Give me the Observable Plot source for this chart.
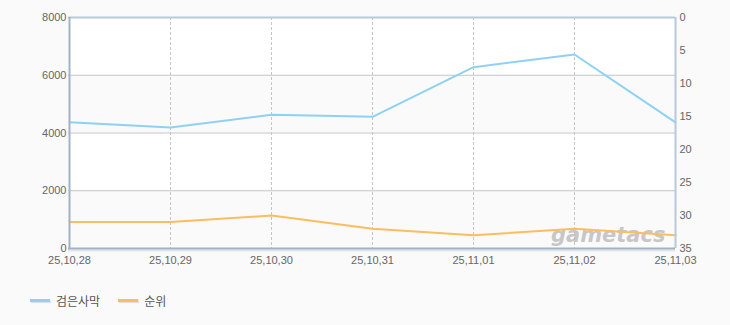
<!DOCTYPE html>
<html><head><meta charset="utf-8">
<script src="https://cdn.jsdelivr.net/npm/d3@7"></script>
<script src="https://cdn.jsdelivr.net/npm/@observablehq/plot@0.6"></script>
<style>
body{margin:0;background:#fafafa;font-family:"Noto Sans CJK KR","Liberation Sans",sans-serif;}
#wrap{position:relative;width:730px;height:325px;}
#legend{position:absolute;left:30px;top:292px;display:flex;align-items:center;font-size:12px;color:#555;}
.sw{display:inline-block;width:20px;height:3px;margin-right:6px;box-shadow:1px 1px 1px #ddd;}
.item{display:flex;align-items:center;margin-right:18px;}
</style></head>
<body><div id="wrap"><div id="chart"></div>
<div id="legend"></div></div>
<script>
const dates = ["25,10,28","25,10,29","25,10,30","25,10,31","25,11,01","25,11,02","25,11,03"];
const users = [4370, 4190, 4630, 4560, 6280, 6720, 4370];
const ranks = [31, 31, 30, 32, 33, 32, 33];
const leftTicks = [0, 2000, 4000, 6000, 8000];
const rankTicks = [0, 5, 10, 15, 20, 25, 30, 35];
const seriesNames = ["검은사막", "순위"];
const colors = ["#8fd1f2", "#fbbd5e"];

const YMAX = 8000, RMAX = 35;
const r2y = r => YMAX - r * YMAX / RMAX;
const y2r = v => Math.round((YMAX - v) * RMAX / YMAX);

const userData = dates.map((d, i) => ({d, v: users[i]}));
const rankData = dates.map((d, i) => ({d, v: r2y(ranks[i])}));
const bands = [[0, 2000], [4000, 6000]];

const chart = Plot.plot({
  width: 730, height: 272,
  marginLeft: 68, marginRight: 55, marginTop: 17, marginBottom: 24,
  style: {background: "transparent", fontFamily: "'Liberation Sans', sans-serif", fontSize: "11px", color: "#666"},
  x: {type: "point", domain: dates, padding: 0, label: null},
  y: {domain: [0, YMAX], label: null},
  marks: [
    Plot.frame({fill: "#ffffff", stroke: null}),
    Plot.rectY(bands, {y1: b => b[0], y2: b => b[1], fill: "#fafafa"}),
    Plot.gridY(leftTicks.filter(t => t > 0 && t < YMAX), {stroke: "#c6c6c6", strokeOpacity: 1}),
    Plot.gridX(dates.slice(1, -1), {stroke: "#c6c6c6", strokeOpacity: 1, strokeDasharray: "3,2"}),
    Plot.text(["gametacs"], {frameAnchor: "bottom-right", dx: -10, dy: -7, fontSize: 21, fontWeight: "bold", fontStyle: "italic", fill: "#b0b0b0", fillOpacity: 0.7, fontFamily: "'DejaVu Sans', sans-serif"}),
    Plot.lineY(userData, {x: "d", y: "v", stroke: colors[0], strokeWidth: 2}),
    Plot.lineY(rankData, {x: "d", y: "v", stroke: colors[1], strokeWidth: 2}),
    Plot.ruleY([YMAX], {stroke: "#b7c9dc", strokeWidth: 2}),
    Plot.ruleX([dates[dates.length - 1]], {stroke: "#b7c9dc", strokeWidth: 2}),
    Plot.ruleY([0], {stroke: "#e4e4e4", strokeWidth: 2, dy: 2}),
    Plot.ruleY([0], {stroke: "#a2b2c5", strokeWidth: 2}),
    Plot.ruleX([dates[0]], {stroke: "#a2b2c5", strokeWidth: 2}),
    Plot.axisY(leftTicks, {anchor: "left", tickSize: 0, tickPadding: 2, fill: "#666", tickFormat: d => String(d)}),
    Plot.axisY(rankTicks.map(r2y), {anchor: "right", tickSize: 0, tickPadding: 4, fill: "#666", tickFormat: v => String(y2r(v))}),
    Plot.axisX(dates, {anchor: "bottom", tickSize: 0, tickPadding: 8, fill: "#666"})
  ]
});
document.getElementById("chart").appendChild(chart);

const legend = document.getElementById("legend");
seriesNames.forEach((n, i) => {
  const it = document.createElement("span");
  it.className = "item";
  it.innerHTML = `<span class="sw" style="background:${colors[i]}"></span><span>${n}</span>`;
  legend.appendChild(it);
});
</script></body></html>
